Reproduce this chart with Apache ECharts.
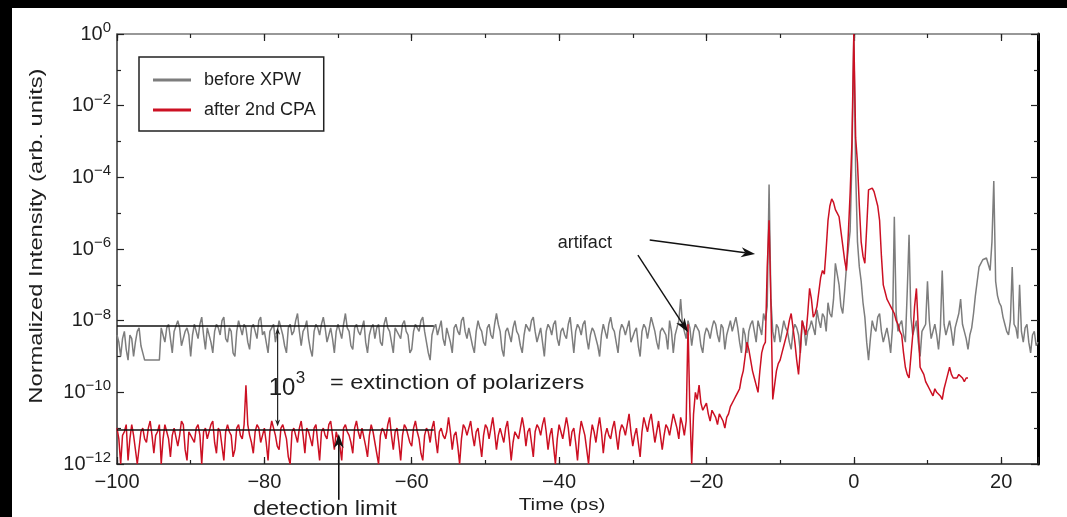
<!DOCTYPE html>
<html>
<head>
<meta charset="utf-8">
<script src="https://cdn.jsdelivr.net/npm/echarts@6/dist/echarts.min.js"></script>
<style>
html,body{margin:0;padding:0;background:#fff;}
#c{width:1067px;height:517px;}
</style>
</head>
<body>
<div id="c"></div>
<script>
// Sampling grid of the traces (ps)
const T_START = -100;
const T_STEP = 0.25;

// log10 of normalized intensity, "before XPW" (t = -100 ... 25 ps, one row = 5 ps)
const beforeXPW = [
-8.4,-8.6,-9.0,-8.5,-8.3,-8.8,-9.1,-8.4,-8.5,-9.0,-8.6,-8.3,-8.2,-8.7,-8.9,-9.1,-9.1,-9.1,-9.1,-9.1,
-9.1,-9.1,-9.1,-9.1,-8.2,-8.4,-8.6,-8.2,-8.1,-8.5,-8.9,-8.3,-8.3,-8.0,-8.2,-8.7,-8.7,-8.3,-8.2,-8.4,
-9.0,-8.4,-8.1,-8.3,-8.5,-8.1,-7.9,-8.4,-8.8,-8.2,-8.2,-8.6,-8.9,-8.3,-8.1,-8.2,-8.4,-8.0,-7.9,-8.5,
-8.6,-8.2,-8.3,-8.9,-9.0,-8.3,-8.0,-8.2,-8.4,-8.1,-8.2,-8.6,-8.8,-8.2,-8.1,-8.3,-8.5,-8.0,-7.9,-8.4,
-8.3,-8.6,-8.9,-8.3,-8.2,-8.1,-8.6,-8.3,-8.0,-8.2,-8.4,-8.7,-8.9,-8.2,-8.1,-8.4,-8.3,-8.0,-7.8,-8.3,
-8.7,-8.3,-8.2,-8.0,-8.5,-8.8,-9.0,-8.3,-8.1,-8.2,-8.4,-8.1,-7.9,-8.2,-8.6,-8.4,-8.2,-8.5,-8.9,-8.3,
-8.1,-8.3,-8.5,-8.1,-7.8,-8.2,-8.3,-8.7,-8.8,-8.2,-8.1,-8.3,-8.4,-8.2,-8.0,-8.6,-8.9,-8.4,-8.2,-8.1,
-8.5,-8.2,-8.1,-8.6,-8.7,-8.1,-7.9,-8.2,-8.3,-8.6,-8.9,-8.2,-8.2,-8.4,-8.5,-8.1,-8.0,-8.3,-8.4,-8.9,
-8.8,-8.3,-8.1,-8.2,-8.3,-8.0,-7.9,-8.3,-8.6,-8.9,-9.1,-8.4,-8.2,-8.1,-8.4,-8.2,-8.0,-8.5,-8.7,-8.2,
-8.2,-8.6,-8.9,-8.2,-8.1,-8.3,-8.4,-8.0,-7.9,-8.3,-8.5,-8.2,-8.2,-8.7,-8.9,-8.3,-8.0,-8.2,-8.3,-8.6,
-8.7,-8.2,-8.1,-8.4,-8.5,-8.1,-7.8,-8.1,-8.3,-8.8,-9.0,-8.3,-8.2,-8.4,-8.6,-8.2,-8.0,-8.3,-8.4,-8.7,
-8.9,-8.4,-8.1,-8.2,-8.3,-8.0,-7.9,-8.3,-8.6,-8.4,-8.2,-8.6,-9.0,-8.3,-8.1,-8.2,-8.4,-8.1,-8.0,-8.5,
-8.7,-8.3,-8.2,-8.4,-8.5,-8.1,-7.9,-8.4,-8.9,-8.3,-8.1,-8.2,-8.4,-8.1,-8.0,-8.5,-8.8,-8.4,-8.2,-8.3,
-8.3,-8.7,-9.0,-8.4,-8.1,-8.3,-8.5,-8.1,-7.9,-8.2,-8.3,-8.6,-8.9,-8.3,-8.1,-8.2,-8.4,-8.2,-8.0,-8.6,
-8.6,-8.3,-8.2,-8.7,-9.0,-8.3,-8.1,-8.2,-8.5,-8.2,-7.9,-8.1,-8.3,-8.6,-8.8,-8.3,-8.2,-8.3,-8.4,-8.8,
-8.0,-8.3,-8.9,-8.4,-8.2,-8.0,-7.4,-8.1,-8.3,-8.5,-8.0,-8.2,-8.7,-8.3,-8.1,-8.2,-8.3,-8.7,-8.9,-8.4,
-8.2,-8.3,-8.5,-8.2,-8.0,-8.1,-8.4,-8.6,-8.1,-8.2,-8.8,-8.4,-8.2,-8.0,-8.3,-8.1,-7.9,-8.2,-8.6,-8.9,
-8.2,-8.4,-8.9,-8.3,-8.1,-8.0,-8.3,-8.6,-8.0,-8.2,-8.4,-7.8,-8.0,-7.6,-4.2,-7.4,-8.3,-8.6,-8.1,-8.2,
-8.6,-8.3,-8.0,-8.2,-8.3,-8.6,-8.8,-8.3,-8.1,-8.2,-8.4,-8.9,-8.0,-8.2,-8.7,-8.3,-8.2,-8.0,-8.0,-8.4,
-7.7,-8.0,-8.2,-7.8,-7.9,-8.3,-7.5,-7.8,-7.9,-7.4,-6.4,-6.7,-7.0,-7.6,-7.8,-7.2,-6.5,-6.0,-5.5,-3.5,
-0.05,-3.8,-5.8,-6.5,-6.9,-7.5,-7.9,-8.6,-9.1,-8.5,-8.0,-8.2,-8.3,-7.9,-7.8,-8.3,-8.6,-8.4,-8.2,-8.5,
-8.9,-8.2,-5.1,-7.8,-8.3,-8.1,-8.0,-8.4,-8.6,-7.2,-5.6,-7.9,-8.4,-8.2,-8.0,-8.6,-9.0,-8.3,-8.2,-8.1,
-6.9,-8.0,-8.5,-8.3,-8.1,-8.4,-8.8,-8.2,-6.6,-8.1,-8.4,-8.2,-8.0,-8.3,-8.7,-8.2,-8.2,-7.8,-7.4,-8.1,
-8.3,-8.5,-8.8,-8.4,-8.2,-7.8,-7.3,-6.9,-6.5,-6.4,-6.3,-6.3,-6.25,-6.3,-6.6,-5.8,-4.1,-6.9,-7.3,-7.5,
-7.6,-7.9,-8.1,-8.3,-8.4,-8.0,-6.5,-8.1,-8.2,-8.5,-7.0,-8.3,-8.6,-8.2,-8.1,-8.6,-8.9,-8.4,-8.3,-8.7,
-8.6
];

// log10 of normalized intensity, "after 2nd CPA" (t = -100 ... 15.5 ps, one row = 5 ps)
const after2ndCPA = [
-11.0,-11.3,-12.0,-11.2,-11.1,-10.9,-11.9,-11.3,-10.9,-11.2,-11.6,-12.0,-12.0,-11.1,-11.0,-11.3,-11.4,-11.0,-10.8,-11.2,
-11.7,-11.2,-11.1,-10.9,-12.0,-11.3,-10.9,-11.1,-11.3,-11.8,-11.2,-11.0,-11.0,-11.5,-11.2,-10.8,-10.9,-11.6,-11.9,-11.1,
-11.1,-11.3,-11.4,-11.0,-10.9,-11.2,-12.0,-11.1,-11.0,-11.3,-11.3,-10.9,-10.8,-11.4,-11.7,-11.0,-11.1,-11.5,-11.9,-11.1,
-10.9,-11.1,-11.2,-11.8,-11.6,-11.0,-10.9,-11.2,-11.3,-10.9,-9.8,-10.9,-11.2,-11.4,-11.7,-11.1,-10.9,-11.0,-11.4,-11.2,
-11.0,-11.4,-11.9,-11.1,-10.8,-11.0,-11.2,-11.5,-11.6,-11.0,-10.9,-11.1,-11.3,-11.8,-12.0,-11.1,-11.0,-11.2,-11.4,-11.0,
-10.8,-11.2,-11.7,-11.0,-11.1,-11.3,-11.5,-11.0,-10.9,-11.4,-11.9,-11.1,-11.0,-11.2,-11.3,-10.9,-10.8,-11.2,-11.6,-11.1,
-11.1,-11.5,-11.9,-11.0,-10.9,-11.1,-11.2,-11.4,-11.7,-11.0,-10.8,-11.1,-11.3,-11.0,-11.0,-11.5,-11.8,-11.2,-10.9,-11.1,
-11.4,-11.7,-12.0,-11.2,-11.0,-11.1,-11.3,-10.9,-10.7,-11.2,-11.6,-11.1,-11.0,-11.4,-11.9,-11.2,-10.9,-11.0,-11.2,-11.4,
-11.5,-11.0,-10.8,-11.1,-11.3,-11.7,-11.9,-11.2,-11.0,-11.1,-11.4,-11.0,-10.8,-11.3,-11.7,-11.1,-11.0,-11.2,-11.3,-11.1,
-10.7,-11.1,-11.6,-11.2,-11.1,-11.5,-12.0,-11.3,-10.9,-11.0,-11.2,-11.0,-10.8,-11.2,-11.5,-11.1,-11.0,-11.4,-11.8,-11.2,
-10.9,-11.0,-11.3,-11.0,-10.7,-11.1,-11.6,-11.2,-11.0,-11.2,-11.4,-11.0,-10.8,-11.3,-11.9,-11.4,-11.1,-11.2,-11.3,-11.0,
-10.7,-11.0,-11.5,-11.1,-11.0,-11.4,-11.8,-11.1,-10.9,-11.0,-11.2,-10.9,-10.7,-11.1,-11.6,-11.2,-11.0,-11.5,-12.0,-11.3,
-10.9,-11.1,-11.3,-11.0,-10.7,-11.0,-11.5,-11.1,-11.0,-11.4,-11.9,-11.2,-10.8,-11.0,-11.2,-11.6,-12.0,-11.3,-10.9,-11.1,
-11.4,-11.0,-10.7,-11.1,-11.7,-11.2,-11.0,-11.2,-11.3,-11.0,-10.8,-11.2,-11.6,-11.1,-10.9,-11.0,-11.2,-10.9,-10.6,-11.1,
-11.5,-11.2,-11.0,-11.4,-11.8,-11.1,-10.7,-10.9,-11.1,-10.8,-10.6,-11.0,-11.4,-11.1,-10.8,-11.2,-11.6,-11.2,-10.9,-11.0,
-11.2,-10.9,-10.6,-10.8,-11.0,-11.3,-10.7,-10.9,-11.2,-10.8,-8.1,-10.5,-12.0,-10.6,-10.0,-10.2,-9.8,-10.3,-10.5,-10.4,
-10.3,-10.6,-10.8,-10.5,-10.5,-10.7,-10.9,-10.6,-10.6,-10.8,-11.0,-10.7,-10.6,-10.4,-10.4,-10.2,-10.1,-10.0,-9.9,-9.6,
-9.4,-9.0,-8.6,-8.8,-9.1,-9.4,-9.6,-9.8,-10.0,-9.4,-8.9,-8.7,-8.6,-6.5,-5.2,-7.5,-10.2,-9.8,-9.4,-9.2,
-9.1,-8.9,-8.7,-8.5,-8.3,-8.0,-7.8,-8.2,-8.6,-9.1,-9.5,-8.8,-8.0,-8.2,-8.4,-7.8,-7.1,-7.4,-7.9,-7.8,
-7.6,-7.2,-6.8,-6.6,-6.7,-6.0,-5.2,-4.8,-4.6,-4.7,-4.9,-5.0,-5.1,-5.5,-5.9,-6.3,-6.6,-5.6,-4.45,-3.0,
0,-2.9,-3.6,-4.8,-5.8,-6.2,-6.4,-5.4,-4.35,-4.3,-4.3,-4.4,-4.45,-4.8,-5.2,-6.2,-7.0,-7.2,-7.4,-7.5,
-7.6,-7.7,-7.8,-8.0,-8.1,-8.3,-8.4,-8.9,-9.3,-9.5,-9.6,-9.0,-8.4,-7.6,-7.1,-8.2,-9.3,-9.4,-9.5,-9.7,
-9.8,-9.9,-10.0,-10.1,-9.9,-10.0,-10.0,-10.1,-10.2,-9.9,-9.7,-9.5,-9.3,-9.5,-9.6,-9.6,-9.6,-9.5,-9.5,-9.6,
-9.7,-9.6,-9.6
];

const seriesNames = ['before XPW', 'after 2nd CPA'];
const xTickLabels = [-100, -80, -60, -40, -20, 0, 20];
const yTickExponents = [0, -2, -4, -6, -8, -10, -12];

const FONT = '"Liberation Sans", Arial, Helvetica, sans-serif';
const TXT = '#1e1e1e';
const GRAY = '#7d7d7d';
const RED = '#cc1023';

const toPairs = arr => arr.map((v, i) => [T_START + i * T_STEP, v]);
const minus = s => String(s).replace('-', '\u2212');

const chart = echarts.init(document.getElementById('c'), null, {renderer: 'canvas'});

const tickLine = {color: '#222', width: 1.2};
function xAxisCfg(pos, interval, len, showLine, showLabel, lineColor) {
  return {
    type: 'value', position: pos, min: -100, max: 25, interval: interval,
    axisLine: {show: showLine, onZero: false, lineStyle: {color: lineColor || '#222', width: 1.5}},
    axisTick: {show: true, inside: true, length: len, lineStyle: tickLine},
    axisLabel: {
      show: showLabel, margin: 8, fontSize: 20, color: TXT, fontFamily: FONT,
      formatter: v => xTickLabels.indexOf(v) >= 0 ? minus(v) : ''
    },
    splitLine: {show: false}
  };
}

const option = {
  animation: false,
  backgroundColor: '#ffffff',
  grid: {left: 117, top: 34, width: 921, height: 430, containLabel: false},
  xAxis: [
    xAxisCfg('bottom', 20, 7, true, true, '#222'),
    xAxisCfg('bottom', 10, 4, false, false),
    xAxisCfg('top', 20, 7, true, false, '#777'),
    xAxisCfg('top', 10, 4, false, false)
  ],
  yAxis: [
    {
      type: 'value', position: 'left', min: -12, max: 0, interval: 2,
      axisLine: {show: true, onZero: false, lineStyle: {color: '#333', width: 1.5}},
      axisTick: {show: true, inside: true, length: 7, lineStyle: tickLine},
      minorTick: {show: true, splitNumber: 2, length: 4, lineStyle: tickLine},
      splitLine: {show: false},
      axisLabel: {
        margin: 6, color: TXT, fontFamily: FONT,
        formatter: v => yTickExponents.indexOf(v) >= 0 ? '{b|10}{s|' + minus(v) + '}' : '',
        rich: {
          b: {fontSize: 20, color: TXT, fontFamily: FONT, lineHeight: 27},
          s: {fontSize: 15, color: TXT, fontFamily: FONT, lineHeight: 15, verticalAlign: 'top'}
        }
      }
    },
    {
      type: 'value', position: 'right', min: -12, max: 0, interval: 2,
      axisLine: {show: true, onZero: false, lineStyle: {color: '#000', width: 3}},
      axisTick: {show: true, inside: true, length: 7, lineStyle: tickLine},
      minorTick: {show: true, splitNumber: 2, length: 4, lineStyle: tickLine},
      splitLine: {show: false},
      axisLabel: {show: false}
    }
  ],
  legend: {
    data: seriesNames,
    orient: 'vertical',
    left: 139, top: 57,
    padding: [14, 8, 12, 14],
    itemGap: 12,
    itemWidth: 38, itemHeight: 3,
    icon: 'rect',
    borderColor: '#222', borderWidth: 1.5,
    backgroundColor: '#fff',
    textStyle: {fontSize: 18, color: TXT, fontFamily: FONT, padding: [0, 0, 0, 8]}
  },
  series: [
    {
      name: seriesNames[0], type: 'line', data: toPairs(beforeXPW),
      xAxisIndex: 0, yAxisIndex: 0,
      showSymbol: false, symbol: 'none',
      lineStyle: {color: GRAY, width: 1.5}, itemStyle: {color: GRAY},
      clip: true, z: 2
    },
    {
      name: seriesNames[1], type: 'line', data: toPairs(after2ndCPA),
      xAxisIndex: 0, yAxisIndex: 0,
      showSymbol: false, symbol: 'none',
      lineStyle: {color: RED, width: 1.5}, itemStyle: {color: RED},
      clip: true, z: 3
    }
  ]
};
chart.setOption(option);

// ---- annotations, placed in data coordinates (t [ps], log10 I) ----
const P = (t, e) => chart.convertToPixel({xAxisIndex: 0, yAxisIndex: 0}, [t, e]);

function arrowEls(a, b, head, half, color, lw) {
  const dx = b[0] - a[0], dy = b[1] - a[1];
  const L = Math.hypot(dx, dy), ux = dx / L, uy = dy / L;
  const base = [b[0] - ux * head, b[1] - uy * head];
  const notch = [b[0] - ux * head * 0.7, b[1] - uy * head * 0.7];
  return [
    {type: 'line', z: 50, shape: {x1: a[0], y1: a[1], x2: notch[0], y2: notch[1]},
     style: {stroke: color, lineWidth: lw}},
    {type: 'polygon', z: 50, shape: {points: [
      b, [base[0] - uy * half, base[1] + ux * half], notch, [base[0] + uy * half, base[1] - ux * half]
    ]}, style: {fill: color}}
  ];
}
function hline(t1, t2, e) {
  const a = P(t1, e), b = P(t2, e);
  return {type: 'line', z: 50, shape: {x1: a[0], y1: a[1], x2: b[0], y2: b[1]},
          style: {stroke: '#111', lineWidth: 1.6}};
}
function text(t, e, str, size, align, extra) {
  const p = P(t, e);
  return Object.assign({type: 'text', z: 60, x: p[0], y: p[1],
    style: {text: str, fontSize: size, fontFamily: FONT, fill: TXT,
            align: align || 'center', verticalAlign: 'middle'}}, extra || {});
}

const els = [];
// black frame strips of the scanned figure
els.push({type: 'rect', z: 100, shape: {x: 0, y: 0, width: 1067, height: 8}, style: {fill: '#000'}});
els.push({type: 'rect', z: 100, shape: {x: 0, y: 0, width: 12, height: 517}, style: {fill: '#000'}});

// level lines
els.push(hline(-100, -57, -8.15));
els.push(hline(-100, -57, -11.05));
// 10^3 double arrow
const da = P(-78.2, -8.2), db = P(-78.2, -10.95);
const mid = [(da[0] + db[0]) / 2, (da[1] + db[1]) / 2];
els.push(...arrowEls(mid, da, 7, 2.5, '#222', 1.2));
els.push(...arrowEls(mid, db, 7, 2.5, '#222', 1.2));
els.push(text(-77.6, -9.9, '10', 24, 'center'));
els.push(text(-75.1, -9.6, '3', 17, 'center'));
els.push(text(-71.1, -9.74, '= extinction of polarizers', 21, 'left', {scaleX: 1.12}));

// artifact
els.push(text(-36.5, -5.83, 'artifact', 18, 'center'));
els.push(...arrowEls(P(-27.7, -5.75), P(-13.4, -6.14), 14, 5, '#111', 1.4));
els.push(...arrowEls(P(-29.3, -6.17), P(-22.5, -8.32), 14, 5, '#111', 1.4));

// detection limit
els.push(...arrowEls(P(-69.9, -13.0), P(-69.9, -11.16), 14, 5, '#111', 1.6));
els.push(text(-71.8, -13.25, 'detection limit', 21, 'center', {scaleX: 1.12}));

// axis titles
els.push(text(-39.6, -13.15, 'Time (ps)', 17, 'center', {scaleX: 1.22}));
els.push(text(-110.9, -5.64, 'Normalized Intensity (arb. units)', 19, 'center',
              {rotation: Math.PI / 2, scaleX: 1.25}));

chart.setOption({graphic: {elements: els}});
</script>
</body>
</html>
